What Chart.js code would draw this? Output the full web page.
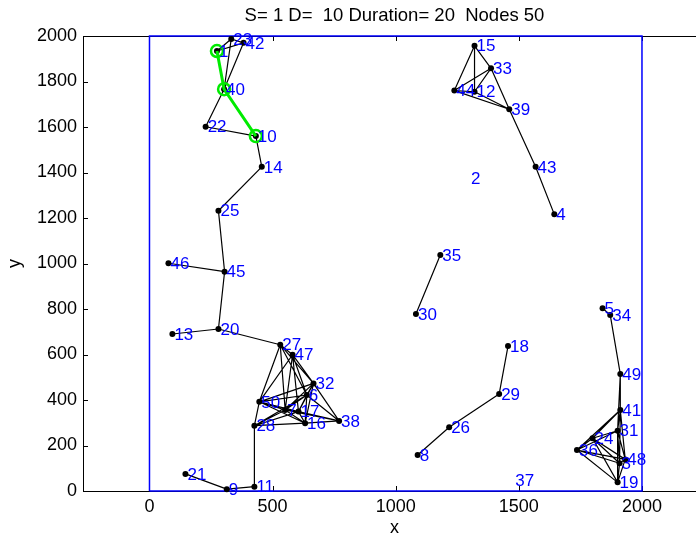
<!DOCTYPE html>
<html>
<head>
<meta charset="utf-8">
<script src="https://cdn.jsdelivr.net/npm/chart.js@4.4.1/dist/chart.umd.min.js"></script>
<style>
    html, body { margin: 0; padding: 0; background: #fff; overflow: hidden; }
    #wrap { width: 720px; height: 538px; }
</style>
</head>
<body>
<div id="wrap"><canvas id="net" width="720" height="538"></canvas></div>
<script>
// Node positions (node id = index + 1)
const nodeX = [274, 1298, 1909, 1644, 1840, 639, 551, 1089, 314, 432,
               426, 1320, 93, 456, 1320, 632, 605, 1456, 1901, 280,
               146, 228, 332, 1799, 280, 1217, 531, 426, 1420, 1082,
               1901, 666, 1387, 1871, 1181, 1736, 1477, 770, 1461, 303,
               1912, 382, 1568, 1238, 305, 77, 581, 1932, 1912, 446];
const nodeY = [1934, 1375, 122, 1216, 803, 422, 356, 158, 8, 1560,
               19, 1755, 690, 1425, 1957, 298, 349, 637, 38, 712,
               75, 1601, 1987, 232, 1232, 280, 643, 287, 426, 778,
               265, 473, 1858, 774, 1037, 180, 45, 308, 1678, 1766,
               356, 1970, 1425, 1760, 964, 1001, 599, 139, 514, 392];

// Links between nodes
const links = [
    [1, 23], [1, 42], [23, 42], [23, 40], [42, 40], [1, 40], [40, 22], [40, 10], [22, 10],
    [10, 14], [14, 25], [25, 45], [46, 45], [45, 20], [13, 20], [20, 27],
    [21, 9], [9, 11], [11, 28],
    [27, 47], [27, 32], [27, 50], [27, 6], [27, 7], [47, 32], [47, 50], [47, 6], [47, 7], [47, 17],
    [32, 50], [32, 6], [32, 7], [32, 17], [32, 16], [32, 38], [50, 6], [50, 7], [50, 17], [50, 16],
    [50, 28], [6, 7], [6, 17], [6, 16], [6, 38], [6, 28], [7, 17], [7, 16], [7, 38], [7, 28],
    [17, 16], [17, 38], [17, 28], [16, 38], [16, 28],
    [15, 33], [15, 44], [15, 12], [33, 44], [33, 12], [33, 39], [44, 12], [44, 39], [12, 39],
    [39, 43], [43, 4],
    [35, 30], [18, 29], [29, 26], [26, 8],
    [5, 34], [34, 49], [49, 41], [49, 31], [41, 31], [41, 24], [41, 36], [41, 48], [41, 3],
    [31, 24], [31, 36], [31, 48], [31, 3], [31, 19], [24, 36], [24, 48], [24, 3], [24, 19],
    [36, 48], [36, 3], [36, 19], [48, 3], [48, 19], [3, 19]
];

// Route from source to destination
const route = [1, 40, 10];

// Deployment field border
const fieldX = [0, 2000, 2000, 0, 0];
const fieldY = [0, 0, 2000, 2000, 0];

const xTicks = [0, 500, 1000, 1500, 2000];
const yTicks = [0, 200, 400, 600, 800, 1000, 1200, 1400, 1600, 1800, 2000];
const titleText = 'S= 1 D=  10 Duration= 20  Nodes 50';

const FONT = "'Liberation Sans', Arial, sans-serif";

function pt(id) {
    return { x: nodeX[id - 1], y: nodeY[id - 1] };
}

// build edge segments, gaps between them
const edgeData = [];
const linked = new Set();
links.forEach(([a, b]) => {
    edgeData.push(pt(a), pt(b), { x: null, y: null });
    linked.add(a);
    linked.add(b);
});
const dotData = Array.from(linked).map(pt);
const routeData = route.map(pt);
const fieldData = fieldX.map((v, i) => ({ x: v, y: fieldY[i] }));

const netPlugin = {
    id: 'netDecor',
    beforeDatasetsDraw(chart) {
        const { ctx, chartArea: a, scales: { x, y } } = chart;
        ctx.save();
        ctx.strokeStyle = '#000';
        ctx.lineWidth = 1;
        ctx.beginPath();
        ctx.moveTo(a.left, a.top + 0.5);
        ctx.lineTo(a.right, a.top + 0.5);
        xTicks.forEach(v => {
            const px = Math.round(x.getPixelForValue(v)) + 0.5;
            ctx.moveTo(px, a.bottom);
            ctx.lineTo(px, a.bottom - 5);
            ctx.moveTo(px, a.top);
            ctx.lineTo(px, a.top + 5);
        });
        yTicks.forEach(v => {
            const py = Math.round(y.getPixelForValue(v)) + 0.5;
            ctx.moveTo(a.left, py);
            ctx.lineTo(a.left + 5, py);
        });
        ctx.stroke();
        ctx.restore();
    },
    afterDatasetsDraw(chart) {
        const { ctx, chartArea: a, scales: { x, y } } = chart;
        ctx.save();
        ctx.font = '17px ' + FONT;
        ctx.fillStyle = '#0000ff';
        ctx.textAlign = 'left';
        ctx.textBaseline = 'middle';
        nodeX.forEach((v, i) => {
            ctx.fillText(String(i + 1), x.getPixelForValue(v) + 2, y.getPixelForValue(nodeY[i]) + 1);
        });

        ctx.font = '18.5px ' + FONT;
        ctx.fillStyle = '#000';
        ctx.textAlign = 'center';
        ctx.fillText(titleText, (a.left + a.right) / 2, 16);
        ctx.font = '18px ' + FONT;
        ctx.fillText('x', (a.left + a.right) / 2, 528);
        ctx.translate(15, (a.top + a.bottom) / 2);
        ctx.rotate(-Math.PI / 2);
        ctx.fillText('y', 0, 0);
        ctx.restore();
    }
};

new Chart(document.getElementById('net'), {
    type: 'scatter',
    data: {
        datasets: [
            {
                data: routeData,
                showLine: true,
                borderColor: 'rgb(0,235,0)',
                borderWidth: 3,
                pointRadius: 6,
                pointBorderWidth: 2.5,
                pointBorderColor: 'rgb(0,235,0)',
                pointBackgroundColor: 'rgba(0,0,0,0)',
                clip: false,
                order: 0
            },
            {
                data: dotData,
                pointRadius: 3,
                pointBorderWidth: 0,
                pointBackgroundColor: '#000',
                clip: false,
                order: 1
            },
            {
                data: edgeData,
                showLine: true,
                borderColor: '#000',
                borderWidth: 1.2,
                pointRadius: 0,
                clip: false,
                order: 2
            },
            {
                data: fieldData,
                showLine: true,
                borderColor: '#0000ff',
                borderWidth: 1.5,
                pointRadius: 0,
                clip: false,
                order: 3
            }
        ]
    },
    options: {
        responsive: false,
        animation: false,
        events: [],
        layout: { padding: { top: 36, right: 14, left: 0, bottom: 0 } },
        plugins: {
            legend: { display: false },
            tooltip: { enabled: false }
        },
        scales: {
            x: {
                type: 'linear',
                min: -270,
                max: 2260,
                afterBuildTicks: s => { s.ticks = xTicks.map(v => ({ value: v })); },
                afterFit: s => { s.height = 47; },
                grid: { drawOnChartArea: false, drawTicks: false },
                border: { color: '#000', width: 1 },
                ticks: {
                    color: '#000',
                    font: { family: FONT, size: 18 },
                    padding: 5,
                    maxRotation: 0,
                    autoSkip: false,
                    callback: v => String(v)
                }
            },
            y: {
                type: 'linear',
                min: 0,
                max: 2000,
                afterBuildTicks: s => { s.ticks = yTicks.map(v => ({ value: v })); },
                afterFit: s => { s.width = 83; },
                grid: { drawOnChartArea: false, drawTicks: false },
                border: { color: '#000', width: 1 },
                ticks: {
                    color: '#000',
                    font: { family: FONT, size: 18 },
                    padding: 6,
                    autoSkip: false,
                    callback: v => String(v)
                }
            }
        }
    },
    plugins: [netPlugin]
});
</script>
</body>
</html>
